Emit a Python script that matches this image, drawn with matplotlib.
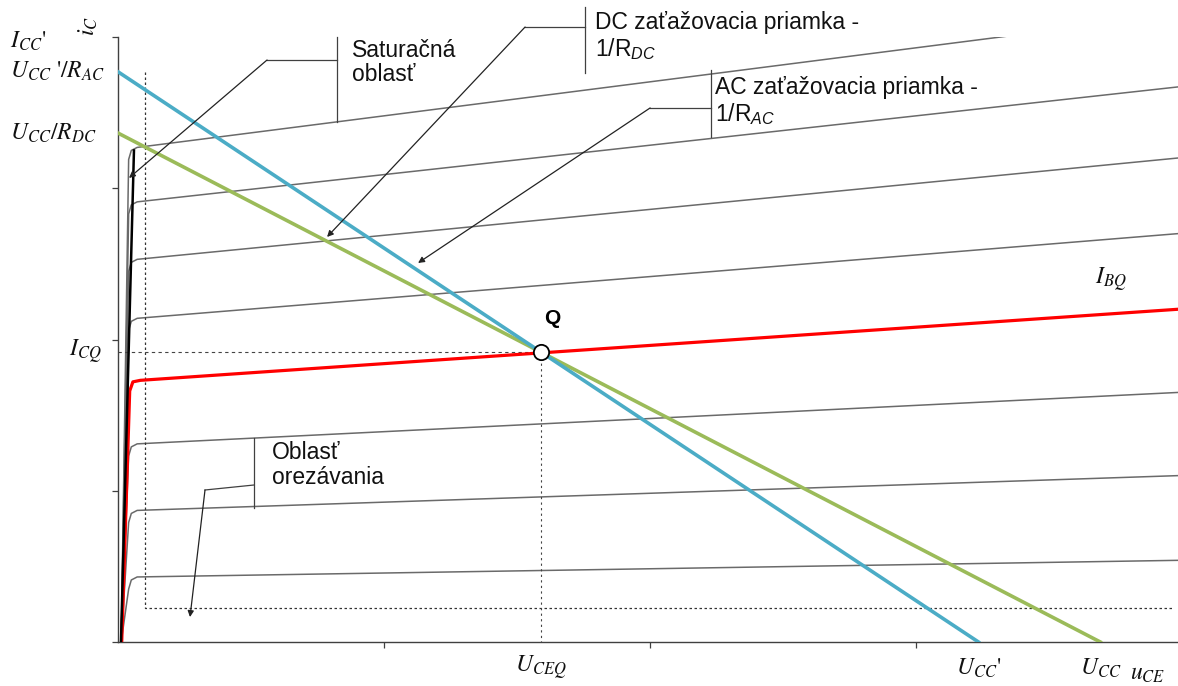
import matplotlib
matplotlib.use("Agg")
import matplotlib.pyplot as plt

plt.rcParams['mathtext.fontset'] = 'custom'
plt.rcParams['mathtext.rm'] = 'Liberation Sans'
plt.rcParams['mathtext.it'] = 'Liberation Sans:italic'
plt.rcParams['font.family'] = ['Liberation Sans', 'DejaVu Sans']

# ---------------- data ----------------
# gray output characteristics: current at knee and at right end of axis
knee_current = [0.43, 0.87, 1.31, 2.14, 2.53, 2.91, 3.27]
end_current = [0.54, 1.10, 1.65, 2.70, 3.20, 3.67, 4.15]
# quiescent base current curve (red)
ibq_knee = 1.73
ibq_end = 2.20
# load lines
ucc_ac = 16.17      # U_CC'
icc_ac = 3.77       # U_CC'/R_AC
ucc_dc = 18.46      # U_CC
icc_dc = 3.365      # U_CC/R_DC
# quiescent point
uceq = 7.95
icq = 1.917
# saturation / cut-off limits
u_sat = 0.51
i_cut = 0.225
# saturation envelope
sat_u = [0.056, 0.30]
sat_i = [0.0, 3.25]

x_max = 19.92
y_max = 4.0
xticks = [5, 10, 15]
yticks = [0, 1, 2, 3, 4]

fig = plt.figure(figsize=(11.78, 6.86), dpi=100)
ax = fig.add_axes([118 / 1178, 44 / 686, 1060 / 1178, 605 / 686])
ax.set_xlim(0, x_max)
ax.set_ylim(0, y_max)

gray = '#6a6a6a'
for ik, ie in zip(knee_current, end_current):
    xs = [0.06, 0.20, 0.25, 0.36, x_max]
    ys = [0.0, ik - 0.08, ik - 0.02, ik, ie]
    ax.plot(xs, ys, color=gray, lw=1.1, zorder=2)

ax.plot([0.07, 0.22, 0.28, 0.42, x_max],
        [0.0, ibq_knee - 0.07, ibq_knee - 0.01, ibq_knee, ibq_end],
        color='#ff0000', lw=2.3, zorder=3, solid_capstyle='round')

ax.plot(sat_u, sat_i, color='black', lw=1.8, zorder=3)

# dotted limit lines
ax.plot([u_sat, u_sat, x_max - 0.08], [icc_ac, i_cut, i_cut],
        color='#333333', lw=0.9, ls=(0, (2, 2)), zorder=2)
# dashed Q lines
ax.plot([0, uceq], [icq, icq], color='#444444', lw=0.8, ls=(0, (3, 3)), zorder=2)
ax.plot([uceq, uceq], [icq, 0], color='#444444', lw=0.8, ls=(0, (2, 3)), zorder=2)

# load lines
ax.plot([0, ucc_dc], [icc_dc, 0], color='#9bbb59', lw=2.6, zorder=4)
ax.plot([0, ucc_ac], [icc_ac, 0], color='#4bacc6', lw=2.6, zorder=5)

ax.plot([uceq], [icq], marker='o', ms=11, mfc='white', mec='black', mew=1.3, zorder=6)

# axes style
for s in ['top', 'right']:
    ax.spines[s].set_visible(False)
for s in ['left', 'bottom']:
    ax.spines[s].set_color('#404040')
    ax.spines[s].set_linewidth(1.0)
ax.set_xticks(xticks)
ax.set_yticks(yticks)
ax.set_xticklabels([])
ax.set_yticklabels([])
ax.tick_params(direction='out', length=4, width=0.9, color='#404040')

# serif labels
ser = dict(fontfamily='STIXGeneral', math_fontfamily='stix', fontsize=17,
           clip_on=False, color='#111111')
ax.text(-2.03, 3.927, r"$I_{CC}$'", ha='left', va='baseline', **ser)
ax.text(-0.56, 4.07, r"$i_C$", ha='center', va='center', rotation=90, **ser)
ax.text(-2.03, 3.729, r"$U_{CC}$ '$/R_{AC}$", ha='left', va='baseline', **ser)
ax.text(-2.03, 3.319, r"$U_{CC}/R_{DC}$", ha='left', va='baseline', **ser)
ax.text(-0.30, 1.884, r"$I_{CQ}$", ha='right', va='baseline', **ser)
ax.text(uceq, -0.205, r"$U_{CEQ}$", ha='center', va='baseline', **ser)
ax.text(ucc_ac, -0.218, r"$U_{CC}$'", ha='center', va='baseline', **ser)
ax.text(ucc_dc, -0.218, r"$U_{CC}$", ha='center', va='baseline', **ser)
ax.text(19.02, -0.251, r"$u_{CE}$", ha='left', va='baseline', **ser)
ax.text(18.36, 2.36, r"$I_{BQ}$", ha='left', va='baseline', **ser)

ax.text(8.16, 2.142, "Q", fontsize=15, fontweight='bold', ha='center', va='center')

# annotations
lc = '#404040'
ann = dict(fontsize=16.5, ha='left', va='top', linespacing=1.1, clip_on=False, color='#111111')

def leader(bx, by0, by1, path, tip):
    ax.plot([bx, bx], [by0, by1], color=lc, lw=0.9, clip_on=False, zorder=7)
    xs = [p[0] for p in path]
    ys = [p[1] for p in path]
    ax.plot(xs, ys, color=lc, lw=0.9, clip_on=False, zorder=7)
    ax.annotate('', xy=tip, xytext=path[-1], annotation_clip=False, zorder=7,
                arrowprops=dict(arrowstyle='-|>', color='#222222', lw=0.9,
                                mutation_scale=9, shrinkA=0, shrinkB=0))

ax.text(4.40, 3.99, "Saturačná\noblasť", **ann)
leader(4.117, 4.0, 3.438, [(4.117, 3.848), (2.801, 3.848)], (0.207, 3.068))

ax.text(8.966, 4.17, "DC zaťažovacia priamka -\n1/$\\mathrm{R}_{DC}$", **ann)
leader(8.778, 4.198, 3.762, [(8.778, 4.066), (7.650, 4.066)], (3.929, 2.678))

ax.text(11.22, 3.74, "AC zaťažovacia priamka -\n1/$\\mathrm{R}_{AC}$", **ann)
leader(11.147, 3.782, 3.339, [(11.147, 3.531), (10.0, 3.531)], (5.639, 2.506))

ax.text(2.895, 1.33, "Oblasť\norezávania", **ann)
leader(2.556, 1.349, 0.886, [(2.556, 1.038), (1.635, 1.005)], (1.353, 0.165))

fig.savefig("out.png", dpi=100)
